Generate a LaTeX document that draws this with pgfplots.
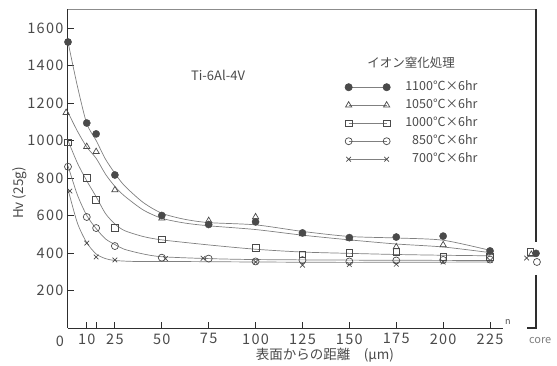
\documentclass[border=0pt]{standalone}
\usepackage{pgfplots}
\pgfplotsset{compat=1.18}
\usepackage{fontspec}
\setmainfont{Noto Sans CJK JP}
\newfontfamily\tickfont[LetterSpace=9]{Noto Sans CJK JP}

\definecolor{ink}{HTML}{4A4A4A}
\definecolor{curve}{HTML}{808080}
\definecolor{frame}{HTML}{2E2E2E}

\newcommand{\lbl}[1]{\hspace*{13pt}#1}

\begin{document}
\begin{tikzpicture}
\useasboundingbox (0,0) rectangle (557pt,365pt);
\begin{axis}[
  at={(68pt,37pt)}, anchor=south west,
  scale only axis, width=435.17pt, height=319pt,
  xmin=0, xmax=232, ymin=0, ymax=1701,
  clip=false,
  axis x line*=bottom, axis y line*=left,
  axis line style={frame, line width=1pt, -},
  tick align=inside,
  major tick length=6pt,
  every tick/.style={frame, line width=0.8pt},
  xtick={10,15,25,50,75,100,125,150,175,200,225},
  xticklabels={10,,25,50,75,100,125,150,175,200,225},
  ytick={200,400,...,1600},
  /pgf/number format/assume math mode=true,
  /pgf/number format/1000 sep={},
  ticklabel style={font=\tickfont\fontsize{14.5}{16}\selectfont, text=ink},
  xticklabel style={yshift=-2pt},
  yticklabel style={xshift=-1pt},
  legend image code/.code={\draw[mark repeat=1,#1] plot coordinates {(0pt,0pt) (38pt,0pt)};},
  legend cell align=left,
  legend style={at={(axis cs:147.6,1325)}, anchor=north west, draw=none, fill=none,
    inner sep=0pt, row sep=3pt, text=ink,
    font=\fontsize{12.5}{14}\selectfont,
    nodes={text height=9pt, text depth=2pt, inner sep=2pt}},
]
% remaining frame of the plot area
\draw[black!45, line width=0.8pt] (axis cs:0,1701) -- (axis cs:249.5,1701);
\draw[frame, line width=1.1pt] (axis cs:249.5,1701) -- (axis cs:249.5,459);
\draw[frame, line width=1.1pt] (axis cs:249.5,283) -- (axis cs:249.5,0) -- (axis cs:244.7,0);

% fitted curves
\addplot[curve, line width=0.7pt, smooth, tension=0.45, forget plot] coordinates {
 (0,1525) (5,1290) (10,1090) (15,1000) (20,900) (25,825) (30,760) (40,670) (50,612) (62,580) (75,562) (100,550) (125,515) (150,488) (175,480) (200,468) (225,414)};
\addplot[curve, line width=0.7pt, smooth, tension=0.45, forget plot] coordinates {
 (0,1150) (5,1050) (10,965) (15,905) (20,820) (25,755) (30,705) (40,630) (50,585) (62,560) (75,545) (100,525) (125,495) (150,470) (175,448) (200,432) (225,402)};
\addplot[curve, line width=0.7pt, smooth, tension=0.45, forget plot] coordinates {
 (0,1000) (5,880) (10,785) (15,700) (20,610) (25,555) (30,520) (40,488) (50,470) (75,443) (100,420) (125,405) (150,398) (175,392) (200,388) (225,385)};
\addplot[curve, line width=0.7pt, smooth, tension=0.45, forget plot] coordinates {
 (0,865) (5,710) (10,600) (15,530) (20,475) (25,445) (30,420) (40,395) (50,380) (75,370) (100,365) (150,362) (225,360)};
\addplot[curve, line width=0.7pt, smooth, tension=0.45, forget plot] coordinates {
 (0,740) (5,560) (10,455) (15,395) (20,370) (25,360) (35,355) (50,355) (100,352) (150,350) (225,352)};

% measured hardness
\addplot[only marks, ink, mark=*, mark size=3.6pt, forget plot] coordinates {
 (0,1525) (10,1093) (15,1035) (25,816) (50,600) (75,552) (100,566) (125,507) (150,482) (175,485) (200,490) (225,411) (249.5,398)};
\addplot[only marks, ink, mark=triangle, mark size=3.6pt, mark options={line width=0.7pt}, forget plot] coordinates {
 (-1,1148) (10,967) (15,940) (25,736) (50,585) (75,572) (100,592) (125,502) (150,478) (175,432) (200,443) (225,400) (247,392)};
\addplot[only marks, ink, mark=square, mark size=3.3pt, mark options={line width=0.7pt}, forget plot] coordinates {
 (0,990) (10,800) (15,683) (25,533) (50,472) (100,427) (125,392) (150,400) (175,405) (200,380) (225,379) (246.5,405)};
\addplot[only marks, ink, mark=o, mark size=3.5pt, mark options={line width=0.7pt}, forget plot] coordinates {
 (0,860) (10,592) (15,533) (25,437) (50,375) (75,370) (100,355) (125,362) (150,355) (175,360) (200,363) (225,365) (250,352)};
\addplot[only marks, ink, mark=x, mark size=3.3pt, mark options={line width=0.7pt}, forget plot] coordinates {
 (1,730) (10,453) (15,379) (25,363) (52,370) (72,372) (100,352) (125,335) (150,338) (175,340) (200,352) (225,360) (244.5,373)};

\addlegendimage{curve, line width=0.7pt, mark=*, mark size=3.6pt, mark options={ink}}
\addlegendimage{curve, line width=0.7pt, mark=triangle, mark size=3.6pt, mark options={ink}}
\addlegendimage{curve, line width=0.7pt, mark=square, mark size=3.3pt, mark options={ink}}
\addlegendimage{curve, line width=0.7pt, mark=o, mark size=3.5pt, mark options={ink}}
\addlegendimage{curve, line width=0.7pt, mark=x, mark size=3.3pt, mark options={ink}}
\legend{\lbl{1100°C×6hr}, \lbl{1050°C×6hr}, \lbl{1000°C×6hr}, \lbl{\phantom{1}850°C×6hr}, \lbl{\phantom{1}700°C×6hr}}

% annotations
\node[text=ink, font=\fontsize{12.5}{14}\selectfont] at (axis cs:182.9,1413) {イオン窒化処理};
\node[text=ink, font=\fontsize{13}{15}\selectfont] at (axis cs:80,1349) {Ti-6Al-4V};
\node[text=ink, font=\fontsize{13.5}{15}\selectfont, rotate=90] at (axis cs:-25.6,720) {Hv (25g)};
\node[text=ink, font=\fontsize{13.5}{15}\selectfont] at (axis cs:137,-144) {表面からの距離\quad(μm)};
\node[text=ink, font=\tickfont\fontsize{14.5}{16}\selectfont] at (axis cs:-4.3,-69) {0};
\node[text=black!50, font=\fontsize{11}{13}\selectfont] at (axis cs:251.7,-69) {core};
\node[text=ink, font=\itshape\fontsize{9}{10}\selectfont] at (axis cs:234.5,32) {n};
\end{axis}
\end{tikzpicture}
\end{document}
